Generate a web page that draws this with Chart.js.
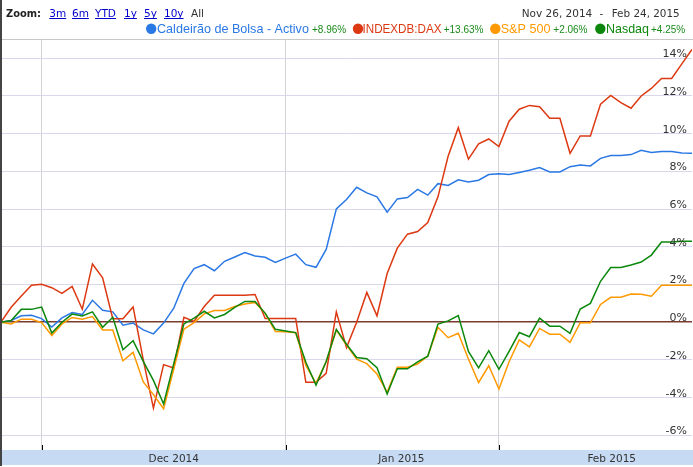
<!DOCTYPE html>
<html>
<head>
<meta charset="utf-8">
<script src="https://cdn.jsdelivr.net/npm/chart.js@4.4.1/dist/chart.umd.min.js"></script>
<style>
  html, body { margin: 0; padding: 0; background: #fff; }
  canvas { display: block; }
</style>
</head>
<body>
<canvas id="chart" width="693" height="467"></canvas>
<script>
// % change since Nov 26, 2014, one value per trading day
const caldeirao = [0.0, 0.09, 0.34, 0.37, 0.19, -0.26, 0.23, 0.51, 0.41, 1.16, 0.63, 0.55, -0.16, -0.05, -0.41, -0.62, -0.05, 0.74,
  2.06, 2.84, 3.05, 2.73, 3.23, 3.46, 3.69, 3.51, 3.44, 3.17, 3.40, 3.61, 3.05, 2.91, 3.86, 6.01, 6.51, 7.16, 6.86, 6.65, 5.84,
  6.54, 6.61, 7.05, 6.74, 7.35, 7.25, 7.55, 7.44, 7.53, 7.83, 7.88, 7.83, 7.94, 8.06, 8.20, 7.97, 7.97, 8.25, 8.34, 8.29, 8.69,
  8.84, 8.84, 8.89, 9.12, 9.00, 9.05, 9.05, 8.98, 8.96];
const dax = [0.0, 0.79, 1.39, 1.96, 2.01, 1.83, 1.53, 1.90, 0.69, 3.09, 2.36, 0.18, 0.18, 0.81, -2.0, -4.56, -2.25, -2.43,
  0.26, 0.04, 0.83, 1.43, 1.43, 1.43, 1.43, 1.47, 0.20, 0.20, 0.20, 0.20, -3.19, -3.19, -2.71, 0.55, -1.35, 0.0, 1.58, 0.34, 2.58,
  3.93, 4.67, 4.81, 5.29, 6.65, 8.8, 10.32, 8.65, 9.46, 9.72, 9.32, 10.66, 11.3, 11.5, 11.43, 10.82, 10.82, 8.96, 9.88, 9.88, 11.57,
  12.03, 11.65, 11.35, 12.0, 12.4, 12.93, 12.93, 13.7, 14.47];
const sp500 = [0.0, -0.09, 0.16, 0.16, -0.02, -0.71, -0.09, 0.25, 0.16, 0.30, -0.41, -0.42, -2.05, -1.60, -3.17, -3.84, -4.59, -2.48,
  -0.37, -0.02, 0.44, 0.62, 0.62, 0.83, 0.96, 1.05, 0.47, -0.50, -0.51, -0.56, -2.3, -3.24, -2.1, -0.42, -1.21, -1.96, -2.2, -2.75, -3.72,
  -2.39, -2.39, -2.22, -1.8, -0.27, -0.82, -0.59, -1.95, -3.2, -2.31, -3.55, -2.1, -0.94, -1.31, -0.33, -0.64, -0.64, -1.07, -0.03, -0.03, 0.94,
  1.32, 1.32, 1.49, 1.48, 1.38, 1.96, 1.96, 1.96, 1.96];
const nasdaq = [0.0, 0.09, 0.68, 0.68, 0.80, -0.58, 0.0, 0.43, 0.33, 0.55, -0.27, 0.26, -1.46, -0.98, -2.08, -3.09, -4.34, -2.2,
  -0.09, 0.21, 0.58, 0.23, 0.41, 0.79, 1.10, 1.10, 0.47, -0.38, -0.47, -0.55, -2.13, -3.34, -2.09, -0.38, -1.17, -1.87, -1.94, -2.42, -3.81,
  -2.47, -2.47, -2.1, -1.8, -0.1, 0.07, 0.35, -1.55, -2.42, -1.51, -2.5, -1.55, -0.55, -0.77, 0.22, -0.21, -0.21, -0.59, 0.70, 1.0, 2.17,
  2.9, 2.9, 3.03, 3.19, 3.56, 4.25, 4.25, 4.3, 4.3];

const seriesNames = ['Caldeirão de Bolsa - Activo', 'INDEXDB:DAX', 'S&P 500', 'Nasdaq'];
const seriesChange = ['+8.96%', '+13.63%', '+2.06%', '+4.25%'];
const seriesColors = ['#2a78e4', '#dc3912', '#ff9900', '#0b870b'];

const yTicks = [-6, -4, -2, 0, 2, 4, 6, 8, 10, 12, 14];
const monthStarts = [4, 28, 49];          // index of Dec 1, Jan 1, Feb 1
const monthLabels = ['Dec 2014', 'Jan 2015', 'Feb 2015'];
const monthLabelAt = [17, 39.4, 60.1];
const zoomLinks = ['3m', '6m', 'YTD', '1y', '5y', '10y'];
const rangeFrom = 'Nov 26, 2014';
const rangeTo = 'Feb 24, 2015';

function series(i, data, order) {
  return {
    label: seriesNames[i],
    data: data.map((v, k) => ({ x: k, y: v })),
    borderColor: seriesColors[i],
    borderWidth: 1.5,
    pointRadius: 0,
    tension: 0,
    fill: false,
    order: order
  };
}

const decor = {
  id: 'decor',
  beforeDraw(chart) {
    const ctx = chart.ctx;
    ctx.save();
    ctx.fillStyle = '#fff';
    ctx.fillRect(0, 0, chart.width, chart.height);

    // header line
    ctx.fillStyle = '#c8c8c8';
    ctx.fillRect(0, 39, chart.width, 1);

    // zoom bar
    ctx.textBaseline = 'alphabetic';
    ctx.textAlign = 'left';
    ctx.fillStyle = '#222';
    ctx.font = 'bold 10.5px "DejaVu Sans"';
    ctx.fillText('Zoom:', 6, 16.5, 35);
    ctx.font = '10.5px "DejaVu Sans"';
    const linkX = [49.3, 72, 95, 124, 144, 164];
    zoomLinks.forEach((t, i) => {
      ctx.fillStyle = '#0000cc';
      ctx.fillText(t, linkX[i], 16.5);
      const w = ctx.measureText(t).width;
      ctx.fillRect(linkX[i], 18, w, 1);
    });
    ctx.fillStyle = '#333';
    ctx.fillText('All', 191, 16.5);

    // date range
    ctx.fillStyle = '#333';
    ctx.fillText(rangeFrom, 521.7, 16.5, 72);
    ctx.fillText('-', 599.5, 16.5);
    ctx.fillText(rangeTo, 611.7, 16.5, 68);

    // legend
    const dotX = [151.2, 358, 495.3, 600.3];
    const nameX = [157, 362.5, 500.7, 606];
    const nameW = [152, 79, 50, 43];
    const pctX = [312, 443.7, 553.3, 651];
    seriesNames.forEach((n, i) => {
      ctx.fillStyle = seriesColors[i];
      ctx.beginPath();
      ctx.arc(dotX[i], 28.8, 5.2, 0, Math.PI * 2);
      ctx.fill();
      ctx.font = '12.6px "Liberation Sans", Arial, sans-serif';
      ctx.fillText(n, nameX[i], 33, nameW[i]);
      ctx.fillStyle = '#1a8a1a';
      ctx.font = '10px "Liberation Sans", Arial, sans-serif';
      ctx.fillText(seriesChange[i], pctX[i], 32.5);
    });
    ctx.restore();
  },
  afterDraw(chart) {
    const ctx = chart.ctx;
    const xs = chart.scales.x;
    const ys = chart.scales.y;
    ctx.save();

    // y labels inside the plot, right aligned
    ctx.font = '11px "DejaVu Sans"';
    ctx.fillStyle = '#333';
    ctx.textAlign = 'right';
    ctx.textBaseline = 'alphabetic';
    yTicks.forEach(v => {
      ctx.fillText(v + '%', 687, Math.round(ys.getPixelForValue(v)) - 1);
    });

    // bottom band with month labels
    ctx.fillStyle = '#c6dbf3';
    ctx.fillRect(0, 450, chart.width, 15);
    ctx.fillStyle = '#333';
    ctx.textAlign = 'center';
    ctx.font = '10.5px "DejaVu Sans"';
    monthLabels.forEach((t, i) => {
      ctx.fillText(t, xs.getPixelForValue(monthLabelAt[i]), 461.5);
    });

    // tick marks at month starts
    ctx.fillStyle = '#000';
    monthStarts.forEach(v => {
      ctx.fillRect(Math.round(xs.getPixelForValue(v)), 445, 1, 5);
    });

    // frame on the left
    ctx.fillStyle = '#444';
    ctx.fillRect(0, 0, 2, 466);
    ctx.restore();
  }
};

new Chart(document.getElementById('chart'), {
  type: 'line',
  data: {
    datasets: [
      series(0, caldeirao, 4),
      series(1, dax, 3),
      series(2, sp500, 2),
      series(3, nasdaq, 1)
    ]
  },
  options: {
    responsive: false,
    animation: false,
    devicePixelRatio: 1,
    events: [],
    layout: { padding: { left: 1, right: 1, top: 40, bottom: 17 } },
    plugins: { legend: { display: false }, tooltip: { enabled: false } },
    scales: {
      x: {
        type: 'linear',
        min: 0,
        max: caldeirao.length - 1,
        afterBuildTicks: s => { s.ticks = monthStarts.map(v => ({ value: v })); },
        ticks: { display: false },
        grid: { color: '#d2d2d2', drawTicks: false },
        border: { display: false }
      },
      y: {
        position: 'right',
        min: -6.78,
        max: 14.97,
        afterBuildTicks: s => { s.ticks = yTicks.map(v => ({ value: v })); },
        ticks: { display: false },
        grid: {
          color: c => c.tick && c.tick.value === 0 ? '#7a3a2e' : '#d8d8ec',
          lineWidth: c => c.tick && c.tick.value === 0 ? 1.5 : 1,
          drawTicks: false
        },
        border: { display: false }
      }
    }
  },
  plugins: [decor]
});
</script>
</body>
</html>
